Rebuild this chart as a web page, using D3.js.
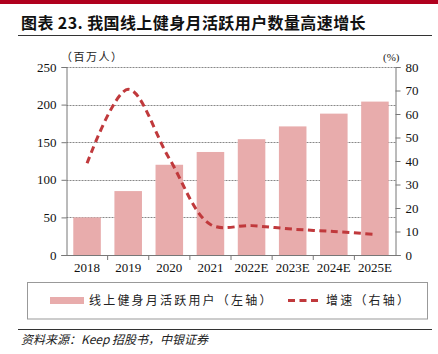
<!DOCTYPE html>
<html>
<head>
<meta charset="utf-8">
<script src="https://cdn.jsdelivr.net/npm/d3@7"></script>
<style>
  body { margin: 0; background: #fff; }
  svg { display: block; }
  .tick text { font-family: "Liberation Serif", "DejaVu Serif", serif; font-size: 13px; fill: #111; }
  .cjk { font-family: "Noto Sans CJK SC", sans-serif; }
</style>
</head>
<body>
<div id="chart"></div>
<script>
const years = ["2018", "2019", "2020", "2021", "2022E", "2023E", "2024E", "2025E"];
const users = [50, 85, 120, 137, 154, 171, 188, 204];
const growth = [39, 70.5, 41, 13, 12.5, 11, 10, 8.8];
const leftTicks = [0, 50, 100, 150, 200, 250];
const rightTicks = [0, 10, 20, 30, 40, 50, 60, 70, 80];

const W = 438, H = 354;
const svg = d3.select("#chart").append("svg").attr("width", W).attr("height", H);

// top red band + title
svg.append("rect").attr("x", 0).attr("y", 0).attr("width", W).attr("height", 4).attr("fill", "#b0001e");
svg.append("text").attr("class", "cjk")
  .attr("x", 21).attr("y", 29)
  .attr("font-size", 16).attr("font-weight", "bold").attr("fill", "#111").attr("letter-spacing", 0.4)
  .text("图表 23. 我国线上健身月活跃用户数量高速增长");
svg.append("line").attr("x1", 18).attr("x2", 432).attr("y1", 35.5).attr("y2", 35.5)
  .attr("stroke", "#333").attr("stroke-width", 1);

const m = {left: 66.5, right: 395.5, top: 67, bottom: 255};

const x = d3.scaleBand().domain(years).range([m.left, m.right]).paddingInner(0.33).paddingOuter(0.165);
const xb = d3.scaleBand().domain(years).range([m.left, m.right]);
const yL = d3.scaleLinear().domain([0, 250]).range([m.bottom, m.top]);
const yR = d3.scaleLinear().domain([0, 80]).range([m.bottom, m.top]);

// gridlines
svg.append("g").selectAll("line").data(leftTicks.filter(d => d > 0)).join("line")
  .attr("x1", m.left).attr("x2", m.right)
  .attr("y1", d => Math.round(yL(d)) + 0.5).attr("y2", d => Math.round(yL(d)) + 0.5)
  .attr("stroke", "#888").attr("stroke-width", 1).attr("stroke-dasharray", "2,1");

// bars
svg.append("g").selectAll("rect").data(years).join("rect")
  .attr("x", d => x(d))
  .attr("y", (d, i) => yL(users[i]))
  .attr("width", x.bandwidth())
  .attr("height", (d, i) => m.bottom - yL(users[i]))
  .attr("fill", "#e8acac");

// growth line
const line = d3.line()
  .x((d, i) => xb(years[i]) + xb.bandwidth() / 2)
  .y(d => yR(d))
  .curve(d3.curveCatmullRom.alpha(0.5));
svg.append("path").datum(growth)
  .attr("d", line)
  .attr("fill", "none")
  .attr("stroke", "#c0393c")
  .attr("stroke-width", 3)
  .attr("stroke-dasharray", "7,4.5");

// axes
const axL = svg.append("g").attr("transform", `translate(${m.left},0)`)
  .call(d3.axisLeft(yL).tickValues(leftTicks).tickSize(5).tickPadding(5));
const axR = svg.append("g").attr("transform", `translate(${m.right},0)`)
  .call(d3.axisRight(yR).tickValues(rightTicks).tickSize(5).tickPadding(5));
const axX = svg.append("g").attr("transform", `translate(0,${m.bottom})`)
  .call(d3.axisBottom(xb).tickSize(0).tickPadding(8));
[axL, axR, axX].forEach(a => {
  a.select(".domain").attr("stroke", "#777");
  a.selectAll(".tick line").attr("stroke", "#777");
});
axX.select(".domain").attr("d", `M${m.left - 5},0.5H${m.right + 5}`);
// category separators on x axis
svg.append("g").selectAll("line").data(years.slice(1)).join("line")
  .attr("x1", d => xb(d)).attr("x2", d => xb(d))
  .attr("y1", m.bottom).attr("y2", m.bottom + 5)
  .attr("stroke", "#777");

// unit labels
svg.append("text").attr("class", "cjk").attr("x", 61).attr("y", 61)
  .attr("font-size", 11).attr("fill", "#222").attr("letter-spacing", 1.5).text("（百万人）");
svg.append("text").attr("x", 383).attr("y", 61)
  .attr("font-family", "Liberation Serif, serif").attr("font-size", 11).attr("fill", "#222").text("(%)");

// legend
svg.append("rect").attr("x", 27.5).attr("y", 282.5).attr("width", 400).attr("height", 36.5)
  .attr("fill", "#fff").attr("stroke", "#999");
svg.append("rect").attr("x", 50).attr("y", 297).attr("width", 34).attr("height", 7).attr("fill", "#e8acac");
svg.append("text").attr("class", "cjk").attr("x", 89).attr("y", 305)
  .attr("font-size", 12).attr("fill", "#222").attr("letter-spacing", 2.2).text("线上健身月活跃用户（左轴）");
svg.append("line").attr("x1", 288).attr("x2", 321).attr("y1", 300.5).attr("y2", 300.5)
  .attr("stroke", "#c0393c").attr("stroke-width", 3).attr("stroke-dasharray", "7,4.5");
svg.append("text").attr("class", "cjk").attr("x", 326).attr("y", 305)
  .attr("font-size", 12).attr("fill", "#222").attr("letter-spacing", 2.2).text("增速（右轴）");

// source
svg.append("line").attr("x1", 18).attr("x2", 432).attr("y1", 329.5).attr("y2", 329.5)
  .attr("stroke", "#333");
svg.append("text").attr("class", "cjk").attr("x", 21).attr("y", 344)
  .attr("font-size", 12).attr("font-style", "italic").attr("fill", "#222")
  .text("资料来源：Keep 招股书，中银证券");
</script>
</body>
</html>
